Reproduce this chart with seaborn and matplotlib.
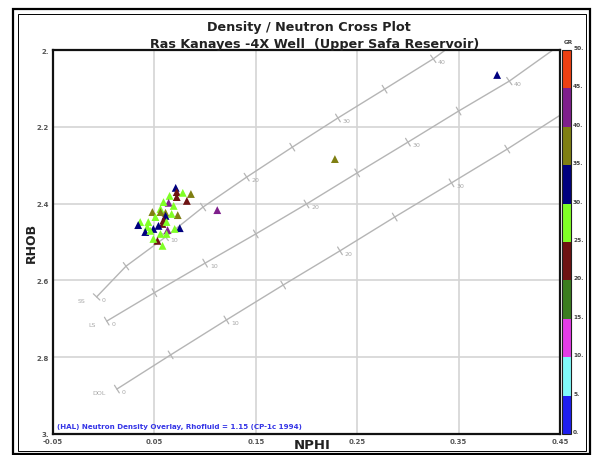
import numpy as np
import matplotlib
matplotlib.use("Agg")
import matplotlib.pyplot as plt
from matplotlib.colors import ListedColormap, BoundaryNorm
from matplotlib.cm import ScalarMappable
from matplotlib.patches import Rectangle
import seaborn as sns

# Log samples: neutron porosity, bulk density, gamma ray
nphi = [0.071, 0.072, 0.086, 0.072, 0.078, 0.065, 0.064, 0.082, 0.059, 0.069,
        0.056, 0.048, 0.056, 0.061, 0.073, 0.067, 0.061, 0.051, 0.059, 0.036,
        0.034, 0.044, 0.058, 0.054, 0.062, 0.043, 0.041, 0.063, 0.075, 0.070,
        0.049, 0.046, 0.056, 0.062, 0.053, 0.058, 0.049, 0.112, 0.228, 0.388]
rhob = [2.359, 2.370, 2.375, 2.383, 2.372, 2.380, 2.398, 2.393, 2.396, 2.406,
        2.414, 2.422, 2.422, 2.424, 2.430, 2.427, 2.432, 2.435, 2.443, 2.448,
        2.456, 2.448, 2.453, 2.458, 2.448, 2.461, 2.474, 2.469, 2.464, 2.466,
        2.466, 2.471, 2.479, 2.479, 2.497, 2.510, 2.492, 2.417, 2.284, 2.065]
gr = [32, 22, 37, 22, 27, 27, 42, 22, 27, 27,
      27, 37, 37, 37, 37, 27, 32, 27, 22, 27,
      32, 27, 22, 32, 27, 27, 32, 42, 32, 27,
      32, 27, 27, 27, 22, 27, 27, 42, 37, 32]

# GR colour classes
gr_bounds = [0, 5, 10, 15, 20, 25, 30, 35, 40, 45, 50]
gr_colors = ["#1f1ff0", "#80fafa", "#e33ce6", "#3b7d1f", "#6e1212",
             "#80ff26", "#00007f", "#7f7f12", "#7f1f8c", "#ee4012"]

# Lithology lines (CP-1c), porosity nodes every 5 p.u.
lith_phi = [0, 5, 10, 15, 20, 25, 30, 35, 40]
ss_nphi = [-0.007, 0.022, 0.061, 0.098, 0.141, 0.186, 0.231, 0.277, 0.325]
ss_rhob = [2.643, 2.563, 2.487, 2.409, 2.331, 2.253, 2.177, 2.102, 2.023]
ss_end = (0.337, 2.0)
ls_nphi = [0.003, 0.050, 0.100, 0.150, 0.200, 0.250, 0.300, 0.350, 0.400]
ls_rhob = [2.706, 2.632, 2.555, 2.479, 2.401, 2.320, 2.240, 2.159, 2.081]
ls_end = (0.443, 2.0)
dol_phi = [0, 5, 10, 15, 20, 25, 30, 35]
dol_nphi = [0.013, 0.066, 0.121, 0.177, 0.233, 0.287, 0.343, 0.398]
dol_rhob = [2.883, 2.794, 2.703, 2.612, 2.523, 2.435, 2.346, 2.258]
dol_end = (0.45, 2.170)

x_ticks = [-0.05, 0.05, 0.15, 0.25, 0.35, 0.45]
x_ticklabels = ["-0.05", "0.05", "0.15", "0.25", "0.35", "0.45"]
y_ticks = [2.0, 2.2, 2.4, 2.6, 2.8, 3.0]
y_ticklabels = ["2.", "2.2", "2.4", "2.6", "2.8", "3."]

sns.set_theme(style="white")
plt.rcParams["font.family"] = ["DejaVu Sans"]

W, H = 594, 456
fig = plt.figure(figsize=(W / 100, H / 100), dpi=100)
ax = fig.add_axes([53 / W, 1 - 435 / H, 507 / W, 384 / H])

ax.set_xlim(-0.05, 0.45)
ax.set_ylim(3.0, 2.0)
ax.set_xticks(x_ticks)
ax.set_xticklabels(x_ticklabels)
ax.set_yticks(y_ticks)
ax.set_yticklabels(y_ticklabels)
ax.tick_params(length=0, labelsize=5, labelcolor="#555555", pad=3)
for lab in ax.get_xticklabels() + ax.get_yticklabels():
    lab.set_fontweight("bold")
ax.grid(True, color="#d4d4d4", lw=1.2)
for sp in ax.spines.values():
    sp.set_color("#111111")
    sp.set_linewidth(1.6)
ax.set_xlabel("")
ax.set_ylabel("")

cmap = ListedColormap(gr_colors)
norm = BoundaryNorm(gr_bounds, cmap.N)

# Lithology overlay lines with porosity ticks
line_col = "#b5b5b5"
lith_sets = [
    ("SS", lith_phi, ss_nphi, ss_rhob, ss_end),
    ("LS", lith_phi, ls_nphi, ls_rhob, ls_end),
    ("DOL", dol_phi, dol_nphi, dol_rhob, dol_end),
]
fig.canvas.draw()
for name, phis, xs, ys, end in lith_sets:
    lx = list(xs) + [end[0]]
    ly = list(ys) + [end[1]]
    ax.plot(lx, ly, color=line_col, lw=1.0, zorder=1)
    pts = ax.transData.transform(np.column_stack([lx, ly]))
    for i, p in enumerate(phis):
        d = pts[i + 1] - pts[i]
        d = d / np.hypot(*d)
        perp = np.array([d[1], -d[0]]) * 4.5
        seg = ax.transData.inverted().transform(np.vstack([pts[i] - perp, pts[i] + perp]))
        ax.plot(seg[:, 0], seg[:, 1], color=line_col, lw=0.9, zorder=1)
        if p % 10 == 0:
            ax.annotate(str(p), (xs[i], ys[i]), xytext=(3.5, -2), textcoords="offset points",
                        fontsize=4.5, color="#a8a8a8", ha="left", va="center")
    ax.annotate(name, (xs[0], ys[0]), xytext=(-8, -2.5), textcoords="offset points",
                fontsize=4.5, color="#a8a8a8", ha="right", va="center")

# Data points coloured by GR class
palette = {g: cmap(norm(g)) for g in sorted(set(gr))}
sns.scatterplot(x=nphi, y=rhob, hue=gr, palette=palette, marker="^", s=32,
                linewidth=0, legend=False, ax=ax, zorder=3)
ax.set_xlim(-0.05, 0.45)
ax.set_ylim(3.0, 2.0)

ax.text(0.007, 0.012, "(HAL) Neutron Density Overlay, Rhofluid = 1.15 (CP-1c 1994)",
        transform=ax.transAxes, fontsize=5.1, fontweight="bold", color="#3535e6",
        ha="left", va="bottom")

# GR colour bar
cax = fig.add_axes([562 / W, 1 - 435 / H, 9 / W, 384 / H])
cb = fig.colorbar(ScalarMappable(norm=norm, cmap=cmap), cax=cax, ticks=gr_bounds)
cb.ax.set_yticklabels([f"{b}." for b in gr_bounds])
cb.ax.tick_params(length=0, labelsize=4.2, labelcolor="#404040", pad=1.5)
for lab in cb.ax.get_yticklabels():
    lab.set_fontweight("bold")
    lab.set_verticalalignment("bottom")
cb.outline.set_linewidth(0.8)
cb.outline.set_edgecolor("#222222")
fig.text(568 / W, 1 - 43 / H, "GR", fontsize=4.2, fontweight="bold", color="#404040",
         ha="center", va="center")

# Titles and axis labels
fig.text(309 / W, 1 - 31 / H, "Density / Neutron Cross Plot", fontsize=9.2,
         fontweight="bold", color="#222222", ha="center", va="baseline")
fig.text(315 / W, 1 - 48 / H, "Ras Kanayes -4X Well  (Upper Safa Reservoir)", fontsize=9.2,
         fontweight="bold", color="#222222", ha="center", va="baseline")
fig.text(312 / W, 1 - 446 / H, "NPHI", fontsize=9.5, fontweight="bold", color="#222222",
         ha="center", va="center")
fig.text(31 / W, 1 - 243 / H, "RHOB", fontsize=9, fontweight="bold", color="#222222",
         ha="center", va="center", rotation=90)

# Double frame round the figure
fig.patches.append(Rectangle((13 / W, 1 - 455 / H), 577 / W, 445 / H, transform=fig.transFigure,
                             fill=False, edgecolor="black", lw=1.6))
fig.patches.append(Rectangle((17.5 / W, 1 - 451.5 / H), 568 / W, 437 / H, transform=fig.transFigure,
                             fill=False, edgecolor="black", lw=0.7))

fig.savefig("out.png", dpi=100)
